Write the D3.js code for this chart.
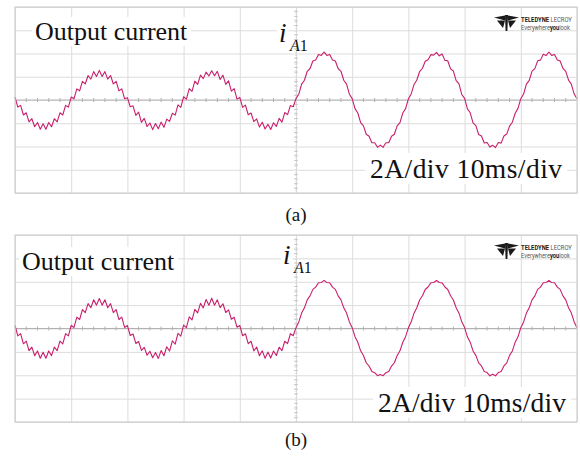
<!DOCTYPE html>
<html>
<head>
<meta charset="utf-8">
<script src="https://cdn.jsdelivr.net/npm/d3@7"></script>
<style>
  body { margin: 0; background: #fff; }
</style>
</head>
<body>
<div class="scope-plot"></div>
<script>
// samples are 0.5 ms apart, 0..100 ms (10 ms/div), values in A (2 A/div)
const sampleStepMs = 0.5;

const currentA = [
  0.25,-0.61,-0.46,-1.29,-1.10,-1.88,-1.61,-2.30,-1.94,-2.52,-2.05,-2.52,-1.94,-2.30,-1.61,-1.88,-1.10,-1.29,-0.46,-0.61,
  0.25,0.11,0.96,0.79,1.60,1.38,2.11,1.80,2.44,2.02,2.55,2.02,2.44,1.80,2.11,1.38,1.60,0.79,0.96,0.11,
  0.20,-0.58,-0.50,-1.32,-1.05,-1.92,-1.58,-2.28,-1.98,-2.55,-2.02,-2.48,-1.90,-2.35,-1.65,-1.84,-1.14,-1.30,-0.42,-0.64,
  0.28,0.08,0.98,0.75,1.62,1.35,2.14,1.84,2.40,2.06,2.52,2.08,2.46,1.76,2.14,1.34,1.64,0.76,0.98,0.08,
  0.22,-0.63,-0.44,-1.27,-1.12,-1.86,-1.63,-2.33,-1.92,-2.50,-2.08,-2.54,-1.96,-2.27,-1.58,-1.90,-1.08,-1.26,-0.48,-0.58,
  0.12,0.50,1.36,1.70,2.47,2.71,3.36,3.44,3.92,3.83,4.12,3.83,3.92,3.44,3.36,2.71,2.47,1.70,1.36,0.50,
  0.12,-0.74,-1.12,-1.94,-2.23,-2.95,-3.12,-3.68,-3.68,-4.07,-3.88,-4.07,-3.68,-3.68,-3.12,-2.95,-2.23,-1.94,-1.12,-0.74,
  0.10,0.52,1.34,1.72,2.45,2.73,3.34,3.47,3.90,3.86,4.10,3.80,3.95,3.41,3.38,2.68,2.49,1.67,1.38,0.47,
  0.14,-0.76,-1.10,-1.96,-2.21,-2.97,-3.10,-3.70,-3.66,-4.05,-3.90,-4.09,-3.66,-3.71,-3.10,-2.93,-2.25,-1.91,-1.14,-0.72,
  0.11,0.51,1.37,1.69,2.48,2.70,3.37,3.43,3.93,3.82,4.13,3.84,3.91,3.45,3.35,2.72,2.46,1.71,1.35,0.51,
  0.10
];

const currentB = [
  0.27,-0.63,-0.44,-1.31,-1.08,-1.90,-1.59,-2.32,-1.92,-2.54,-2.03,-2.54,-1.92,-2.32,-1.59,-1.90,-1.08,-1.31,-0.44,-0.63,
  0.27,0.09,0.98,0.77,1.62,1.36,2.13,1.78,2.46,2.00,2.57,2.00,2.46,1.78,2.13,1.36,1.62,0.77,0.98,0.09,
  0.25,-0.60,-0.47,-1.28,-1.11,-1.87,-1.62,-2.29,-1.95,-2.51,-2.06,-2.56,-1.89,-2.34,-1.56,-1.93,-1.05,-1.34,-0.41,-0.66,
  0.29,0.07,1.00,0.74,1.64,1.33,2.15,1.76,2.48,1.98,2.59,1.99,2.45,1.79,2.12,1.37,1.60,0.79,0.96,0.11,
  0.26,-0.62,-0.45,-1.30,-1.09,-1.91,-1.58,-2.33,-1.91,-2.55,-2.02,-2.53,-1.93,-2.31,-1.60,-1.89,-1.09,-1.30,-0.45,-0.62,
  0.07,0.56,1.32,1.77,2.45,2.79,3.35,3.54,3.92,3.93,4.12,3.93,3.92,3.54,3.35,2.79,2.45,1.77,1.32,0.56,
  0.07,-0.70,-1.18,-1.91,-2.31,-2.93,-3.21,-3.67,-3.78,-4.04,-3.93,-4.04,-3.78,-3.67,-3.21,-2.93,-2.31,-1.91,-1.18,-0.70,
  0.06,0.57,1.31,1.78,2.44,2.80,3.34,3.55,3.91,3.94,4.11,3.94,3.90,3.55,3.34,2.80,2.44,1.78,1.31,0.57,
  0.08,-0.71,-1.17,-1.92,-2.30,-2.94,-3.20,-3.68,-3.77,-4.05,-3.92,-4.05,-3.77,-3.68,-3.20,-2.94,-2.30,-1.92,-1.17,-0.71,
  0.07,0.56,1.32,1.77,2.45,2.79,3.35,3.54,3.92,3.93,4.12,3.93,3.92,3.54,3.35,2.79,2.45,1.77,1.32,0.56,
  0.06
];

const timeTicks = [0, 10, 20, 30, 40, 50, 60, 70, 80, 90, 100];
const ampTicks = [-8, -6, -4, -2, 0, 2, 4, 6, 8];
const minorTimeTicks = [2,4,6,8,12,14,16,18,22,24,26,28,32,34,36,38,42,44,46,48,52,54,56,58,62,64,66,68,72,74,76,78,82,84,86,88,92,94,96,98];
const minorAmpTicks = [-7.6,-7.2,-6.8,-6.4,-5.6,-5.2,-4.8,-4.4,-3.6,-3.2,-2.8,-2.4,-1.6,-1.2,-0.8,-0.4,0.4,0.8,1.2,1.6,2.4,2.8,3.2,3.6,4.4,4.8,5.2,5.6,6.4,6.8,7.2,7.6];

const titleText = 'Output current';
const scaleText = '2A/div 10ms/div';
const captions = ['(a)', '(b)'];

const width = 580;
const height = 456;
const serif = '"Liberation Serif", "Times New Roman", serif';
const sans = 'Roboto, "DejaVu Sans", sans-serif';
const waveColor = '#c81f6c';

const svg = d3.select('.scope-plot').append('svg')
  .attr('width', width)
  .attr('height', height);

const x = d3.scaleLinear()
  .domain([0, 100])
  .range([15, 577]);

// text with a white box behind it, like the pasted labels on the scope shots
function boxedText(g, str, tx, ty, size, pad, len) {
  const t = g.append('text')
    .attr('x', tx)
    .attr('y', ty)
    .attr('font-family', serif)
    .attr('font-size', size)
    .attr('fill', '#111')
    .text(str);
  if (len) t.attr('textLength', len);
  const b = t.node().getBBox();
  g.insert('rect', function() { return t.node(); })
    .attr('x', b.x - pad)
    .attr('y', b.y)
    .attr('width', b.width + pad * 2)
    .attr('height', b.height)
    .attr('fill', '#fff');
  return t;
}

// logo lines: parts as [text, bold], baseline, target width, font size
const logoLines = [
  { parts: [['TELEDYNE ', true], ['LECROY', false]], y: 6.5, w: 51, size: 7.5 },
  { parts: [['Everywhere', false], ['you', true], ['look', false]], y: 15, w: 49, size: 6.5 }
];

function logo(g, lx, ly) {
  const l = g.append('g').attr('transform', 'translate(' + lx + ',' + ly + ')');
  const shapes = [
    [[11,0],[14,0],[13.4,16],[11.6,16]],
    [[0,2.5],[11,0.5],[11,5.5]],
    [[25,2.5],[14,0.5],[14,5.5]],
    [[3,5.5],[11,5.5],[9,13]],
    [[22,5.5],[14,5.5],[16,13]]
  ];
  l.selectAll('polygon')
    .data(shapes)
    .enter()
    .append('polygon')
    .attr('points', function(d) { return d.map(p => p.join(',')).join(' '); })
    .attr('fill', '#1a1a1a');

  logoLines.forEach(function(ln) {
    const holder = l.append('g');
    const t = holder.append('text')
      .attr('x', 0)
      .attr('y', 0)
      .attr('font-family', sans)
      .attr('font-size', ln.size)
      .attr('fill', '#555');
    ln.parts.forEach(function(p) {
      t.append('tspan')
        .attr('font-weight', p[1] ? 'bold' : 'normal')
        .attr('fill', p[1] ? '#1a1a1a' : '#555')
        .text(p[0]);
    });
    // squeeze the line to the condensed width of the logo type
    const sx = ln.w / t.node().getComputedTextLength();
    holder.attr('transform', 'translate(27,' + ln.y + ') scale(' + sx + ',1)');
  });
}

function drawPanel(data, top, bottom, opt) {
  const g = svg.append('g');

  const y = d3.scaleLinear()
    .domain([-8, 8])
    .range([bottom, top]);

  // grid from the axes
  g.append('g')
    .attr('transform', 'translate(0,' + bottom + ')')
    .call(d3.axisBottom(x).tickValues(timeTicks).tickSize(-(bottom - top)).tickFormat(''))
    .call(a => a.select('.domain').remove())
    .call(a => a.selectAll('line').attr('stroke', '#dcdcdc'));

  g.append('g')
    .attr('transform', 'translate(' + x(0) + ',0)')
    .call(d3.axisLeft(y).tickValues(ampTicks).tickSize(-(x(100) - x(0))).tickFormat(''))
    .call(a => a.select('.domain').remove())
    .call(a => a.selectAll('line').attr('stroke', '#dcdcdc'));

  // centre lines with the small division marks
  g.append('line')
    .attr('x1', x(50)).attr('x2', x(50))
    .attr('y1', top).attr('y2', bottom)
    .attr('stroke', '#c8c8c8')
    .attr('stroke-dasharray', '1,2');
  g.append('line')
    .attr('x1', x(0)).attr('x2', x(100))
    .attr('y1', y(0)).attr('y2', y(0))
    .attr('stroke', '#b2b2b2');
  g.selectAll('.mx')
    .data(minorTimeTicks)
    .enter()
    .append('line')
    .attr('x1', d => x(d)).attr('x2', d => x(d))
    .attr('y1', y(0) - 2).attr('y2', y(0) + 2)
    .attr('stroke', '#b2b2b2');
  g.selectAll('.my')
    .data(minorAmpTicks)
    .enter()
    .append('line')
    .attr('x1', x(50) - 2).attr('x2', x(50) + 2)
    .attr('y1', d => y(d)).attr('y2', d => y(d))
    .attr('stroke', '#c8c8c8');

  // labels
  boxedText(g, titleText, opt.titleX, opt.titleY, 26, 3);
  boxedText(g, scaleText, opt.scaleX, opt.scaleY, 27.5, 5, opt.scaleW);

  boxedText(g, 'i', opt.iX, opt.iY, 27, 2)
    .attr('font-style', 'italic');
  const sub = g.append('text')
    .attr('x', opt.iX + 11)
    .attr('y', opt.iY + 9)
    .attr('font-family', serif)
    .attr('font-size', 16)
    .attr('fill', '#111');
  sub.append('tspan').attr('font-style', 'italic').text('A');
  sub.append('tspan').text('1');

  logo(g, 494, top + 8);

  // waveform
  const line = d3.line()
    .x(function(d, i) { return x(i * sampleStepMs); })
    .y(function(d) { return y(d); });

  g.append('path')
    .datum(data)
    .attr('d', line)
    .attr('fill', 'none')
    .attr('stroke', waveColor)
    .attr('stroke-width', 1.1)
    .attr('stroke-linejoin', 'round');

  // frame
  g.append('rect')
    .attr('x', x(0)).attr('y', top)
    .attr('width', x(100) - x(0)).attr('height', bottom - top)
    .attr('fill', 'none')
    .attr('stroke', '#cfcfcf')
    .attr('stroke-width', 1.2);

  svg.append('text')
    .attr('x', 296)
    .attr('y', opt.capY)
    .attr('text-anchor', 'middle')
    .attr('font-family', serif)
    .attr('font-size', 19)
    .attr('fill', '#111')
    .text(opt.caption);
}

drawPanel(currentA, 7, 193, {
  titleX: 35, titleY: 40,
  scaleX: 370, scaleY: 178, scaleW: 192,
  iX: 279, iY: 42,
  capY: 221, caption: captions[0]
});

drawPanel(currentB, 235, 422, {
  titleX: 22, titleY: 270,
  scaleX: 378, scaleY: 412, scaleW: 188,
  iX: 283, iY: 264,
  capY: 446, caption: captions[1]
});
</script>
</body>
</html>
